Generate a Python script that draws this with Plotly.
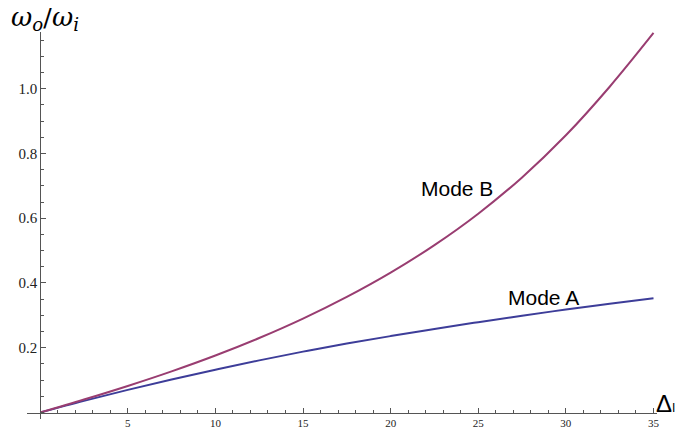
import plotly.graph_objects as go

# values
delta = [0, 2.5, 5, 7.5, 10, 12.5, 15, 17.5, 20, 22.5, 25, 27.5, 30, 32.5, 35]
mode_a = [0, 0.036, 0.07, 0.102, 0.132, 0.161, 0.188, 0.213, 0.236, 0.258,
          0.279, 0.299, 0.318, 0.336, 0.353]
mode_b = [0, 0.04, 0.082, 0.127, 0.176, 0.23, 0.29, 0.357, 0.432, 0.517,
          0.614, 0.726, 0.856, 1.006, 1.172]

x_ticks = [5, 10, 15, 20, 25, 30, 35]
y_ticks = [0.2, 0.4, 0.6, 0.8, 1.0]
y_ticktext = ["0.2", "0.4", "0.6", "0.8", "1.0"]

xr = [-0.75, 35.2]
yr = [-0.02, 1.175]

fig = go.Figure()
fig.add_trace(go.Scatter(x=delta, y=mode_a, mode="lines", line_shape="spline",
                         line=dict(color="#3d3d99", width=2), name="Mode A"))
fig.add_trace(go.Scatter(x=delta, y=mode_b, mode="lines", line_shape="spline",
                         line=dict(color="#993d71", width=2), name="Mode B"))

axcol = "#555555"
fig.update_xaxes(range=xr, showgrid=False, zeroline=False, automargin=False,
                 showline=True, linecolor=axcol, linewidth=1,
                 anchor="free", position=(0 - yr[0]) / (yr[1] - yr[0]),
                 tickvals=x_ticks, ticks="inside", ticklen=5, tickcolor=axcol,
                 minor=dict(dtick=1, tick0=0, ticks="inside", ticklen=3, tickcolor=axcol),
                 tickfont=dict(family="Liberation Serif", size=11, color="#222"))
fig.update_yaxes(range=yr, showgrid=False, zeroline=False, automargin=False,
                 showline=True, linecolor=axcol, linewidth=1,
                 anchor="free", position=(0 - xr[0]) / (xr[1] - xr[0]),
                 tickvals=y_ticks, ticktext=y_ticktext, ticks="inside", ticklen=5,
                 tickcolor=axcol,
                 minor=dict(dtick=0.05, tick0=0, ticks="inside", ticklen=3, tickcolor=axcol),
                 tickfont=dict(family="Liberation Serif", size=15, color="#222"))

fig.add_annotation(x=23.78, y=0.693, text="Mode B", showarrow=False,
                   font=dict(family="Liberation Sans", size=21, color="black"))
fig.add_annotation(x=28.74, y=0.354, text="Mode A", showarrow=False,
                   font=dict(family="Liberation Sans", size=21, color="black"))
fig.add_annotation(xref="paper", yref="paper", x=-0.028, y=1.035, xanchor="left",
                   yanchor="middle", showarrow=False,
                   text="<i>ω<sub>o</sub></i>/<i>ω<sub>i</sub></i>",
                   font=dict(family="DejaVu Serif", size=26, color="black"))
fig.add_annotation(xref="paper", yref="paper", x=0.996, y=0.04, xanchor="left",
                   yanchor="middle", showarrow=False,
                   text="Δ<span style='font-size:12px'>I</span>",
                   font=dict(family="Liberation Sans", size=24, color="black"))

# page body has an 8px margin, so the figure is shrunk by 8px each way
fig.update_layout(width=677, height=422, showlegend=False,
                  margin=dict(l=19, r=28, t=24, b=11),
                  plot_bgcolor="white", paper_bgcolor="white")

fig.write_html("out.html")
